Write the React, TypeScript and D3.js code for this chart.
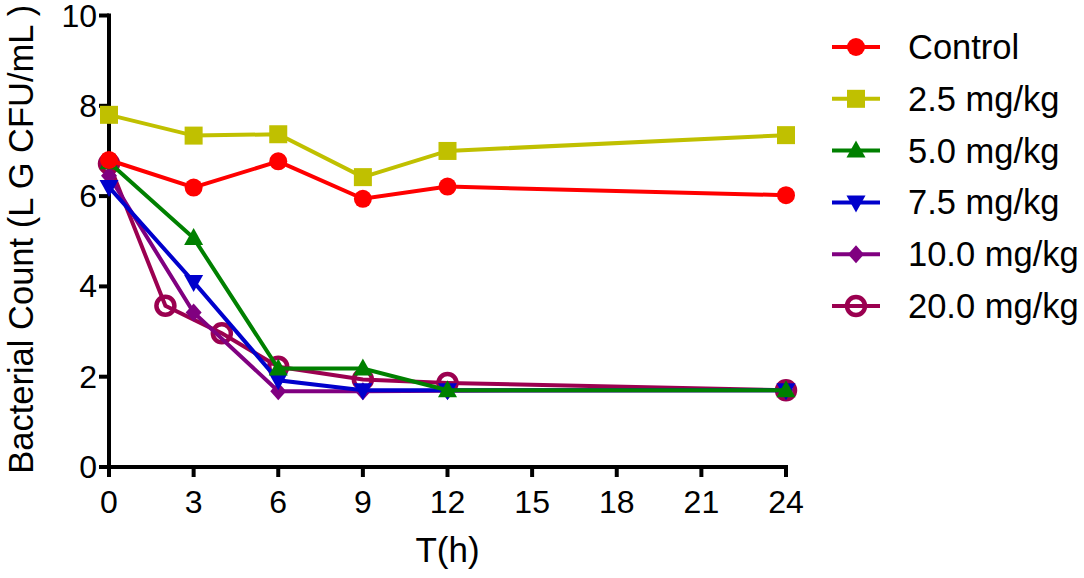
import { useMemo } from "react"
import * as d3 from "d3"

// series: hours and log counts
const controlT = [0, 3, 6, 9, 12, 24]
const controlV = [6.8, 6.19, 6.77, 5.94, 6.21, 6.02]
const dose25T = [0, 3, 6, 9, 12, 24]
const dose25V = [7.8, 7.34, 7.37, 6.42, 7.0, 7.35]
const dose50T = [0, 3, 6, 9, 12, 24]
const dose50V = [6.75, 5.07, 2.18, 2.18, 1.7, 1.7]
const dose75T = [0, 3, 6, 9, 12, 24]
const dose75V = [6.2, 4.1, 1.92, 1.7, 1.7, 1.7]
const dose100T = [0, 3, 6, 9, 12, 24]
const dose100V = [6.45, 3.42, 1.68, 1.68, 1.69, 1.7]
const dose200T = [0, 2, 4, 6, 9, 12, 24]
const dose200V = [6.72, 3.57, 2.96, 2.22, 1.94, 1.86, 1.7]

const xTicks = [0, 3, 6, 9, 12, 15, 18, 21, 24]
const yTicks = [0, 2, 4, 6, 8, 10]

type Shape = "circle" | "square" | "triangle" | "down" | "diamond" | "ring"

interface Serie {
  name: string
  t: number[]
  v: number[]
  color: string
  shape: Shape
}

const series: Serie[] = [
  { name: "Control", t: controlT, v: controlV, color: "#ff0000", shape: "circle" },
  { name: "2.5 mg/kg", t: dose25T, v: dose25V, color: "#c0c000", shape: "square" },
  { name: "5.0 mg/kg", t: dose50T, v: dose50V, color: "#008000", shape: "triangle" },
  { name: "7.5 mg/kg", t: dose75T, v: dose75V, color: "#0000cc", shape: "down" },
  { name: "10.0 mg/kg", t: dose100T, v: dose100V, color: "#800080", shape: "diamond" },
  { name: "20.0 mg/kg", t: dose200T, v: dose200V, color: "#9b0050", shape: "ring" },
]

const FONT = "'Liberation Sans', Arial, Helvetica, sans-serif"

function Marker({ shape, x, y, color }: { shape: Shape; x: number; y: number; color: string }) {
  switch (shape) {
    case "circle":
      return <circle cx={x} cy={y} r={9} fill={color} />
    case "square":
      return <rect x={x - 9} y={y - 9} width={18} height={18} fill={color} />
    case "triangle":
      return <path d={`M${x},${y - 10}L${x + 9.5},${y + 7}L${x - 9.5},${y + 7}Z`} fill={color} />
    case "down":
      return <path d={`M${x},${y + 10}L${x + 9.5},${y - 7}L${x - 9.5},${y - 7}Z`} fill={color} />
    case "diamond":
      return <path d={`M${x},${y - 9}L${x + 8},${y}L${x},${y + 9}L${x - 8},${y}Z`} fill={color} />
    case "ring":
      return <circle cx={x} cy={y} r={9} fill="none" stroke={color} strokeWidth={4.5} />
  }
}

export default function App() {
  const width = 1084
  const height = 578
  const left = 109
  const right = 786
  const top = 15.5
  const bottom = 467

  const x = useMemo(() => d3.scaleLinear().domain([0, 24]).range([left, right]), [])
  const y = useMemo(() => d3.scaleLinear().domain([0, 10]).range([bottom, top]), [])

  const line = d3
    .line<[number, number]>()
    .x((d) => x(d[0]))
    .y((d) => y(d[1]))

  // drawn back to front so Control lands on top
  const drawOrder = [...series].reverse()

  return (
    <svg
      width={width}
      height={height}
      style={{ position: "absolute", left: 0, top: 0, background: "#fff" }}
      fontFamily={FONT}
    >
      {/* axes */}
      <line x1={left} x2={left} y1={top - 2} y2={bottom + 10} stroke="#000" strokeWidth={4} />
      <line x1={left - 10} x2={right + 2} y1={bottom} y2={bottom} stroke="#000" strokeWidth={4} />
      {yTicks.map((t) => (
        <g key={"y" + t}>
          <line x1={left - 10} x2={left} y1={y(t)} y2={y(t)} stroke="#000" strokeWidth={4} />
          <text x={left - 12} y={y(t)} textAnchor="end" dominantBaseline="central" fontSize={32}>
            {t}
          </text>
        </g>
      ))}
      {xTicks.map((t) => (
        <g key={"x" + t}>
          <line x1={x(t)} x2={x(t)} y1={bottom} y2={bottom + 10} stroke="#000" strokeWidth={4} />
          <text x={x(t)} y={bottom + 35} textAnchor="middle" dominantBaseline="central" fontSize={32}>
            {t}
          </text>
        </g>
      ))}
      <text x={(left + right) / 2} y={549} textAnchor="middle" dominantBaseline="central" fontSize={35}>
        T(h)
      </text>
      <text
        transform={`translate(21,${(top + bottom) / 2 - 2}) rotate(-90)`}
        textAnchor="middle"
        dominantBaseline="central"
        fontSize={34.5}
      >
        Bacterial Count (L G CFU/mL )
      </text>

      {/* series */}
      {drawOrder.map((s) => {
        const pts = s.t.map((t, i) => [t, s.v[i]] as [number, number])
        return (
          <g key={s.name}>
            <path d={line(pts) ?? ""} fill="none" stroke={s.color} strokeWidth={4} />
            {pts.map((p, i) => (
              <Marker key={i} shape={s.shape} x={x(p[0])} y={y(p[1])} color={s.color} />
            ))}
          </g>
        )
      })}

      {/* legend */}
      {series.map((s, i) => {
        const ly = 47 + i * 51.8
        return (
          <g key={"lg" + s.name}>
            <line x1={832} x2={880} y1={ly} y2={ly} stroke={s.color} strokeWidth={4} />
            <Marker shape={s.shape} x={856} y={ly} color={s.color} />
            <text x={908} y={ly} dominantBaseline="central" fontSize={34.5}>
              {s.name}
            </text>
          </g>
        )
      })}
    </svg>
  )
}
